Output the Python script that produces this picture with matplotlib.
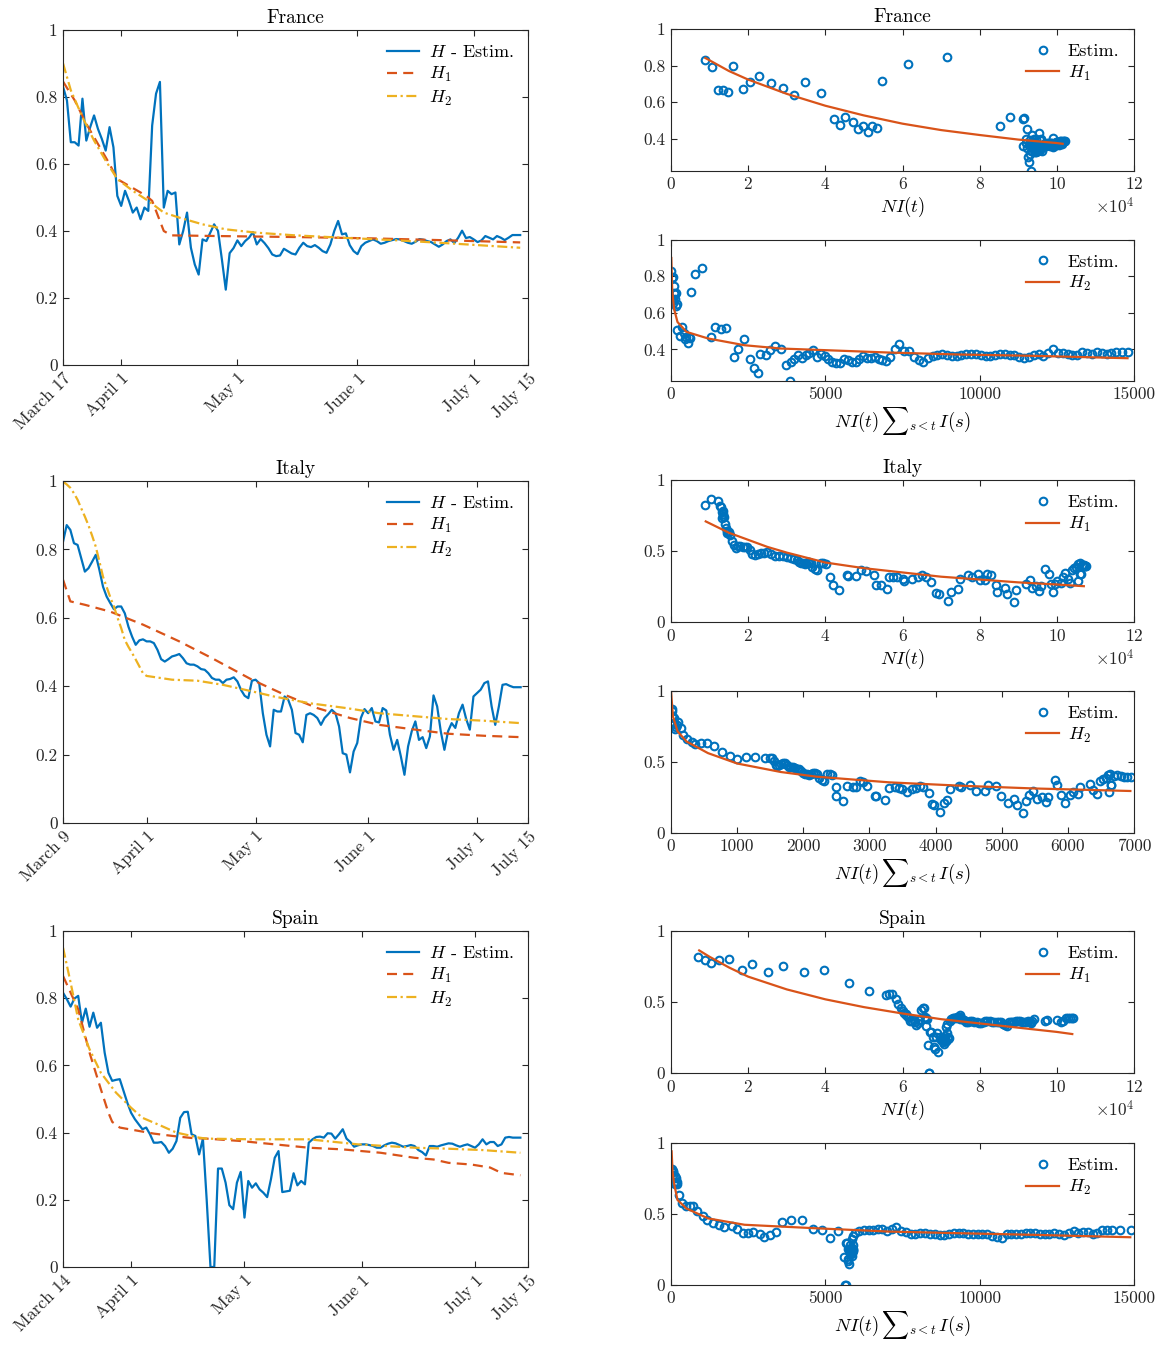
import numpy as np
import pandas as pd
import matplotlib
matplotlib.use("Agg")
import matplotlib.pyplot as plt
from matplotlib.ticker import FuncFormatter, ScalarFormatter, MultipleLocator

plt.rcParams["font.family"] = "cmr10"
plt.rcParams["mathtext.fontset"] = "cm"
plt.rcParams["axes.formatter.use_mathtext"] = True
plt.rcParams["axes.unicode_minus"] = False

BLUE = "#0072BD"
RED = "#D95319"
YELLOW = "#EDB120"
AXC = "#262626"

# ---------------- France (daily, from March 17) ----------------
h_fr = [0.83, 0.79, 0.665, 0.665, 0.655, 0.795, 0.67, 0.71, 0.745, 0.705,
        0.675, 0.64, 0.71, 0.65, 0.505, 0.475, 0.52, 0.49, 0.455, 0.47,
        0.435, 0.47, 0.46, 0.715, 0.81, 0.845, 0.47, 0.52, 0.51, 0.515,
        0.36, 0.40, 0.455, 0.35, 0.30, 0.27, 0.375, 0.37, 0.395, 0.42,
        0.40, 0.315, 0.225, 0.334, 0.349, 0.372, 0.355, 0.37, 0.38, 0.397,
        0.36, 0.376, 0.364, 0.349, 0.33, 0.325, 0.327, 0.347, 0.34, 0.333,
        0.33, 0.35, 0.365, 0.355, 0.352, 0.358, 0.35, 0.34, 0.335, 0.36,
        0.40, 0.43, 0.39, 0.393, 0.358, 0.34, 0.331, 0.355, 0.365, 0.37,
        0.375, 0.37, 0.362, 0.365, 0.37, 0.373, 0.376, 0.375, 0.37, 0.365,
        0.362, 0.368, 0.376, 0.374, 0.37, 0.367, 0.36, 0.353, 0.36, 0.37,
        0.375, 0.364, 0.38, 0.401, 0.379, 0.382, 0.375, 0.367, 0.372, 0.385,
        0.38, 0.375, 0.385, 0.38, 0.373, 0.38, 0.388, 0.388, 0.388]
# N*I(t), in units of 1e4
ni_fr = [0.89, 1.05, 1.21, 1.34, 1.47, 1.60, 1.86, 2.04, 2.29, 2.59,
         2.90, 3.20, 3.48, 3.89, 4.23, 4.39, 4.52, 4.71, 4.84, 4.97,
         5.10, 5.21, 5.34, 5.46, 6.13, 7.15, 8.53, 8.78, 9.13, 9.14,
         9.13, 9.20, 9.23, 9.22, 9.25, 9.27, 9.20, 9.28, 9.30, 9.35,
         9.40, 9.30, 9.33, 9.32, 9.35, 9.38, 9.36, 9.40, 9.42, 9.45,
         9.43, 9.46, 9.48, 9.47, 9.45, 9.44, 9.46, 9.49, 9.50, 9.48,
         9.47, 9.50, 9.53, 9.55, 9.54, 9.56, 9.55, 9.53, 9.52, 9.56,
         9.58, 9.55, 9.57, 9.60, 9.58, 9.57, 9.61, 9.64, 9.66, 9.68,
         9.70, 9.69, 9.71, 9.73, 9.75, 9.74, 9.76, 9.78, 9.80, 9.79,
         9.81, 9.83, 9.85, 9.86, 9.88, 9.87, 9.89, 9.90, 9.92, 9.94,
         9.95, 9.97, 9.99, 9.90, 10.00, 10.02, 10.03, 10.05, 10.06, 10.08,
         10.09, 10.10, 10.12, 10.13, 10.14, 10.15, 10.17, 10.18, 10.20]
# N*I(t)*sum_{s<t} I(s)
cum_fr = [10, 20, 35, 45, 55, 65, 80, 95, 110, 125,
          140, 155, 170, 185, 210, 290, 360, 420, 460, 500,
          540, 585, 620, 656, 773, 995, 1290, 1440, 1615, 1790,
          2025, 2180, 2350, 2550, 2690, 2810, 2890, 3070, 3200, 3370,
          3550, 3720, 3840, 3880, 4000, 4120, 4240, 4360, 4480, 4600,
          4730, 4850, 4980, 5100, 5230, 5350, 5480, 5600, 5730, 5850,
          5980, 6100, 6230, 6350, 6480, 6600, 6730, 6850, 6980, 7110,
          7250, 7400, 7560, 7710, 7870, 8020, 8170, 8320, 8480, 8630,
          8790, 8940, 9100, 9250, 9410, 9560, 9720, 9870, 10030, 10190,
          10340, 10500, 10650, 10810, 10970, 11120, 11280, 11440, 11590, 11750,
          11910, 12060, 12220, 12380, 12530, 12690, 12850, 13000, 13160, 13320,
          13470, 13630, 13790, 13950, 14110, 14270, 14430, 14600, 14810]
h1_fr_day = [0, 3, 6, 9, 12, 14, 17, 20, 22, 23, 24, 25, 26, 28, 40, 60, 80, 100, 118]
h1_fr_val = [0.846, 0.79, 0.72, 0.66, 0.60, 0.555, 0.535, 0.515, 0.50, 0.49,
             0.46, 0.43, 0.40, 0.387, 0.385, 0.382, 0.378, 0.372, 0.366]
h2_fr_day = [0, 2, 5, 8, 11, 14, 18, 22, 26, 30, 36, 42, 50, 60, 72, 85, 100, 118]
h2_fr_val = [0.90, 0.82, 0.74, 0.67, 0.61, 0.555, 0.52, 0.49, 0.455, 0.44,
             0.42, 0.405, 0.395, 0.387, 0.38, 0.373, 0.363, 0.35]
fit1_fr_x = [0.89, 1.5, 2, 3, 4, 5, 6, 7, 8, 9, 10, 10.15]
fit1_fr_y = [0.841, 0.77, 0.723, 0.645, 0.58, 0.527, 0.482, 0.447, 0.42, 0.395, 0.376, 0.372]
fit2_fr_x = [10, 40, 95, 210, 500, 1200, 2380, 3550, 5000, 7060, 9400, 11740, 14790]
fit2_fr_y = [0.90, 0.72, 0.624, 0.55, 0.496, 0.46, 0.423, 0.405, 0.396, 0.383, 0.372, 0.365, 0.352]

# ---------------- Italy (daily, from March 9) ----------------
h_it = [0.823, 0.871, 0.857, 0.818, 0.813, 0.774, 0.735, 0.745, 0.764, 0.784,
        0.74, 0.691, 0.662, 0.643, 0.625, 0.633, 0.633, 0.613, 0.574, 0.545,
        0.521, 0.534, 0.537, 0.531, 0.531, 0.526, 0.506, 0.479, 0.472, 0.479,
        0.487, 0.49, 0.494, 0.482, 0.467, 0.463, 0.463, 0.458, 0.45, 0.448,
        0.438, 0.424, 0.419, 0.419, 0.409, 0.419, 0.421, 0.426, 0.414, 0.389,
        0.372, 0.365, 0.416, 0.419, 0.409, 0.321, 0.258, 0.224, 0.331, 0.326,
        0.326, 0.37, 0.36, 0.331, 0.263, 0.258, 0.236, 0.316, 0.321, 0.316,
        0.307, 0.287, 0.307, 0.318, 0.331, 0.321, 0.282, 0.204, 0.2, 0.148,
        0.209, 0.234, 0.307, 0.333, 0.321, 0.336, 0.297, 0.294, 0.336, 0.329,
        0.258, 0.214, 0.243, 0.195, 0.141, 0.224, 0.268, 0.297, 0.243, 0.251,
        0.219, 0.253, 0.373, 0.341, 0.268, 0.214, 0.268, 0.292, 0.278, 0.321,
        0.346, 0.304, 0.273, 0.37, 0.38, 0.39, 0.409, 0.414, 0.341, 0.287,
        0.341, 0.404, 0.406, 0.401, 0.397, 0.397, 0.397]
ni_it = [0.87, 1.04, 1.23, 1.27, 1.30, 1.32, 1.33, 1.34, 1.35, 1.36,
         1.38, 1.40, 1.42, 1.44, 1.46, 1.48, 1.50, 1.53, 1.57, 1.62,
         1.68, 1.74, 1.80, 1.86, 1.92, 1.98, 2.04, 2.10, 2.18, 2.26,
         2.34, 2.42, 2.50, 2.60, 2.70, 2.80, 2.90, 3.00, 3.10, 3.20,
         3.26, 3.32, 3.38, 3.43, 3.47, 3.51, 3.55, 3.58, 3.62, 3.66,
         3.72, 3.78, 3.89, 3.95, 4.01, 4.13, 4.20, 4.36, 4.55, 4.60,
         4.80, 4.92, 5.05, 5.25, 5.30, 5.45, 5.60, 5.65, 5.75, 5.85,
         6.00, 6.05, 6.25, 6.40, 6.50, 6.60, 6.75, 6.88, 6.95, 7.19,
         7.25, 7.45, 7.50, 7.70, 7.80, 7.95, 8.00, 8.15, 8.20, 8.30,
         8.42, 8.45, 8.65, 8.70, 8.88, 8.95, 9.20, 9.30, 9.35, 9.45,
         9.55, 9.60, 9.70, 9.80, 9.85, 9.91, 9.95, 10.00, 10.10, 10.15,
         10.20, 10.30, 10.35, 10.40, 10.45, 10.50, 10.55, 10.60, 10.60, 10.55,
         10.62, 10.65, 10.68, 10.70, 10.72, 10.73, 10.75]
cum_it = [10, 15, 22, 30, 40, 50, 60, 72, 85, 110,
          150, 180, 235, 315, 370, 450, 540, 650, 765, 890,
          1005, 1135, 1270, 1425, 1490, 1520, 1550, 1580, 1600, 1630,
          1660, 1690, 1720, 1750, 1780, 1810, 1840, 1870, 1900, 1930,
          1960, 1990, 2020, 2050, 2080, 2110, 2140, 2170, 2200, 2240,
          2280, 2320, 2360, 2400, 2440, 2490, 2500, 2600, 2660, 2750,
          2800, 2850, 2900, 2970, 3080, 3100, 3240, 3300, 3380, 3440,
          3490, 3570, 3650, 3700, 3760, 3810, 3900, 3940, 3980, 4060,
          4130, 4180, 4220, 4360, 4390, 4520, 4610, 4740, 4800, 4920,
          4990, 5100, 5180, 5235, 5320, 5360, 5415, 5480, 5535, 5615,
          5670, 5700, 5800, 5835, 5890, 5960, 6030, 6080, 6160, 6190,
          6330, 6380, 6440, 6490, 6530, 6575, 6600, 6640, 6650, 6620,
          6655, 6695, 6750, 6800, 6850, 6900, 6960]
h1_it_day = [0, 2, 6, 13, 22, 32, 41, 52, 61, 70, 79, 87, 97, 106, 116, 126]
h1_it_val = [0.711, 0.648, 0.638, 0.618, 0.58, 0.531, 0.482, 0.419, 0.375, 0.336,
             0.307, 0.287, 0.273, 0.261, 0.255, 0.251]
h2_it_day = [0, 1, 2, 3, 4, 5, 6, 7, 8, 9, 10, 11, 12, 13, 14, 15, 16, 17, 18, 19,
             20, 21, 22, 23, 30, 37, 44, 52, 58, 68, 78, 87, 97, 106, 116, 126]
h2_it_val = [0.998, 0.99, 0.98, 0.964, 0.945, 0.92, 0.896, 0.87, 0.84, 0.808,
             0.765, 0.72, 0.69, 0.66, 0.633, 0.60, 0.57, 0.535, 0.515, 0.497,
             0.478, 0.458, 0.438, 0.43, 0.419, 0.416, 0.404, 0.385, 0.37, 0.35,
             0.336, 0.321, 0.312, 0.304, 0.299, 0.292]
fit1_it_x = [0.9, 1.2, 1.5, 2, 2.5, 3, 4, 5, 6, 7, 8, 9, 10, 10.7]
fit1_it_y = [0.71, 0.67, 0.63, 0.58, 0.53, 0.49, 0.42, 0.38, 0.35, 0.32, 0.30, 0.28, 0.265, 0.253]
fit2_it_x = [0, 30, 100, 235, 560, 1000, 1660, 2200, 3300, 4390, 5480, 6945]
fit2_it_y = [1.0, 0.82, 0.716, 0.645, 0.563, 0.49, 0.43, 0.397, 0.357, 0.333, 0.314, 0.296]

# ---------------- Spain (daily, from March 14) ----------------
h_es = [0.816, 0.797, 0.775, 0.799, 0.807, 0.727, 0.769, 0.715, 0.757, 0.712,
        0.727, 0.638, 0.578, 0.554, 0.557, 0.559, 0.524, 0.489, 0.459, 0.44,
        0.425, 0.41, 0.415, 0.395, 0.37, 0.37, 0.372, 0.36, 0.34, 0.352,
        0.375, 0.444, 0.461, 0.462, 0.395, 0.39, 0.335, 0.382, 0.2, 0.0,
        0.0, 0.293, 0.293, 0.251, 0.184, 0.172, 0.251, 0.283, 0.147, 0.256,
        0.236, 0.249, 0.231, 0.221, 0.208, 0.261, 0.325, 0.345, 0.223, 0.225,
        0.227, 0.279, 0.243, 0.256, 0.246, 0.37, 0.38, 0.387, 0.388, 0.385,
        0.398, 0.397, 0.382, 0.395, 0.41, 0.382, 0.372, 0.358, 0.362, 0.365,
        0.365, 0.363, 0.36, 0.355, 0.355, 0.362, 0.367, 0.37, 0.368, 0.363,
        0.358, 0.36, 0.363, 0.36, 0.348, 0.342, 0.332, 0.36, 0.36, 0.358,
        0.362, 0.365, 0.368, 0.367, 0.362, 0.358, 0.362, 0.365, 0.36, 0.355,
        0.365, 0.38, 0.365, 0.372, 0.372, 0.36, 0.365, 0.385, 0.387, 0.385,
        0.385, 0.385]
ni_es = [0.70, 0.87, 1.04, 1.25, 1.51, 1.83, 2.11, 2.51, 2.90, 3.45,
         3.96, 4.62, 5.14, 5.57, 5.66, 5.74, 5.82, 5.88, 5.95, 6.00,
         6.05, 6.08, 6.10, 6.15, 6.20, 6.25, 6.30, 6.33, 6.36, 6.40,
         6.43, 6.47, 6.52, 6.55, 6.58, 6.60, 6.62, 6.64, 6.66, 6.68,
         6.69, 6.72, 6.75, 6.78, 6.82, 6.85, 6.88, 6.90, 6.93, 6.96,
         6.99, 7.02, 7.04, 7.06, 7.08, 7.10, 7.12, 7.15, 7.10, 7.12,
         7.14, 7.16, 7.17, 7.19, 7.20, 7.22, 7.26, 7.30, 7.34, 7.38,
         7.42, 7.46, 7.50, 7.48, 7.50, 7.55, 7.60, 7.65, 7.70, 7.75,
         7.80, 7.86, 7.92, 7.98, 8.04, 8.10, 8.15, 8.20, 8.26, 8.32,
         8.38, 8.44, 8.50, 8.55, 8.60, 8.65, 8.70, 8.75, 8.80, 8.85,
         8.90, 8.95, 9.00, 9.05, 9.10, 9.15, 9.20, 9.25, 9.30, 9.33,
         9.36, 9.40, 9.70, 9.75, 10.00, 10.10, 10.15, 10.25, 10.30, 10.35,
         10.40, 10.42]
cum_es = [20, 35, 50, 65, 80, 100, 120, 140, 160, 180,
          200, 270, 360, 480, 600, 715, 855, 1030, 1180, 1360,
          1560, 1730, 1970, 2140, 2320, 2490, 2670, 2870, 3020, 3220,
          3410, 3610, 3900, 4250, 4600, 4900, 5160, 5400, 5600, 5650,
          5660, 5680, 5700, 5720, 5740, 5750, 5770, 5790, 5760, 5800,
          5810, 5820, 5830, 5840, 5850, 5860, 5870, 5880, 5830, 5845,
          5860, 5880, 5890, 5900, 5910, 5950, 6100, 6250, 6400, 6550,
          6700, 6850, 7000, 7150, 7300, 7460, 7610, 7770, 7920, 8080,
          8230, 8390, 8540, 8700, 8850, 9010, 9160, 9320, 9470, 9630,
          9780, 9940, 10090, 10250, 10400, 10560, 10710, 10870, 11020, 11180,
          11330, 11490, 11640, 11800, 11950, 12110, 12260, 12420, 12570, 12730,
          12880, 13040, 13190, 13350, 13500, 13660, 13810, 13970, 14120, 14280,
          14550, 14900]
h1_es_day = [0, 4, 7, 10, 12, 13, 15, 19, 24, 29, 34, 38, 47, 56, 65, 74, 84, 93,
             98, 102, 108, 113, 116, 121]
h1_es_val = [0.866, 0.767, 0.638, 0.529, 0.459, 0.432, 0.415, 0.407, 0.397, 0.39,
             0.384, 0.382, 0.375, 0.365, 0.355, 0.35, 0.34, 0.325, 0.32, 0.31,
             0.305, 0.296, 0.28, 0.273]
h2_es_day = [0, 2, 4, 7, 10, 14, 18, 21, 26, 30, 36, 38, 50, 65, 72, 78, 93, 102, 111, 121]
h2_es_val = [0.95, 0.846, 0.737, 0.648, 0.578, 0.519, 0.474, 0.444, 0.42, 0.40,
             0.385, 0.382, 0.38, 0.38, 0.372, 0.365, 0.355, 0.352, 0.348, 0.34]
fit1_es_x = [0.73, 1, 1.5, 2, 3, 4, 5, 6, 7, 8, 9, 10, 10.4]
fit1_es_y = [0.865, 0.82, 0.745, 0.68, 0.59, 0.52, 0.465, 0.42, 0.38, 0.35, 0.32, 0.29, 0.275]
fit2_es_x = [20, 50, 95, 210, 500, 1200, 2380, 4720, 7060, 9400, 11740, 14880]
fit2_es_y = [0.943, 0.80, 0.72, 0.60, 0.54, 0.47, 0.425, 0.40, 0.377, 0.365, 0.354, 0.337]

tick_names = ["April 1", "May 1", "June 1", "July 1"]
tick_dates = ["2020-04-01", "2020-05-01", "2020-06-01", "2020-07-01"]

fig = plt.figure(figsize=(11.68, 13.45), dpi=100)


def style(ax):
    for s in ax.spines.values():
        s.set_color(AXC)
        s.set_linewidth(0.8)
    ax.tick_params(direction="in", top=True, right=True, length=4, width=0.8,
                   colors=AXC, labelsize=12.5, pad=4)


def left_panel(rect, title, start, first_label, h, h1_day, h1_val, h2_day, h2_val):
    ax = fig.add_axes(rect)
    start = pd.Timestamp(start)
    dates = pd.date_range(start, periods=len(h))
    ax.plot(dates, h, color=BLUE, lw=1.6, label="$H$ - Estim.")
    ax.plot(start + pd.to_timedelta(h1_day, unit="D"), h1_val, color=RED, lw=1.6,
            dashes=(4.5, 2.8), label="$H_1$")
    ax.plot(start + pd.to_timedelta(h2_day, unit="D"), h2_val, color=YELLOW, lw=1.6,
            dashes=(4.5, 1.6, 1.0, 1.6), label="$H_2$")
    end = pd.Timestamp("2020-07-15")
    ax.set_xlim(start, end)
    ax.set_ylim(0, 1)
    ax.set_yticks(np.arange(0, 1.01, 0.2))
    ax.yaxis.set_major_formatter(FuncFormatter(lambda v, p: f"{v:g}"))
    ticks = [start] + [pd.Timestamp(d) for d in tick_dates] + [end]
    ax.set_xticks(ticks)
    ax.set_xticklabels([first_label] + tick_names + ["July 15"], rotation=45,
                       ha="right", rotation_mode="anchor")
    ax.set_title(title, fontsize=14, color="black", pad=5)
    style(ax)
    ax.legend(loc="upper right", frameon=False, fontsize=13, handlelength=1.8,
              handletextpad=0.5, labelspacing=0.25, borderaxespad=0.4)
    return ax


def right_panel(rect, x, h, fx, fy, fit_label, xmax, xlabel, ymin, yticks,
                title=None, sci=False, xstep=None):
    ax = fig.add_axes(rect)
    ax.plot(x, h, "o", mfc="none", mec=BLUE, ms=5.5, mew=1.5, label="Estim.")
    ax.plot(fx, fy, color=RED, lw=1.6, label=fit_label)
    ax.set_xlim(0, xmax)
    ax.set_ylim(ymin, 1)
    ax.set_yticks(yticks)
    ax.yaxis.set_major_formatter(FuncFormatter(lambda v, p: f"{v:g}"))
    if sci:
        fmt = ScalarFormatter(useMathText=True)
        fmt.set_powerlimits((4, 4))
        ax.xaxis.set_major_formatter(fmt)
        ax.xaxis.get_offset_text().set_fontsize(12.5)
        ax.xaxis.get_offset_text().set_color(AXC)
    else:
        ax.xaxis.set_major_formatter(FuncFormatter(lambda v, p: f"{v:g}"))
    if xstep:
        ax.xaxis.set_major_locator(MultipleLocator(xstep))
    ax.set_xlabel(xlabel, fontsize=13.5, labelpad=2)
    if title:
        ax.set_title(title, fontsize=14, color="black", pad=5)
    style(ax)
    ax.legend(loc="upper right", frameon=False, fontsize=13, handlelength=1.8,
              handletextpad=0.5, labelspacing=0.25, borderaxespad=0.4)
    return ax


LX, LW = 0.054, 0.398
RX, RW = 0.5745, 0.3964
lab1 = "$NI(t)$"
lab2 = r"$NI(t)\,{\sum}_{s<t}\,I(s)$"

# France
left_panel([LX, 0.7286, LW, 0.2491], "France", "2020-03-17", "March 17",
           h_fr, h1_fr_day, h1_fr_val, h2_fr_day, h2_fr_val)
yl_fr = min(h_fr)
right_panel([RX, 0.8731, RW, 0.1054], np.array(ni_fr) * 1e4, h_fr,
            np.array(fit1_fr_x) * 1e4, fit1_fr_y, "$H_1$", 12e4, lab1, yl_fr,
            [0.4, 0.6, 0.8, 1.0], title="France", sci=True, xstep=2e4)
right_panel([RX, 0.7164, RW, 0.1054], cum_fr, h_fr, fit2_fr_x, fit2_fr_y, "$H_2$",
            15000, lab2, yl_fr, [0.4, 0.6, 0.8, 1.0], xstep=5000)

# Italy
left_panel([LX, 0.3881, LW, 0.2543], "Italy", "2020-03-09", "March 9",
           h_it, h1_it_day, h1_it_val, h2_it_day, h2_it_val)
right_panel([RX, 0.5375, RW, 0.1054], np.array(ni_it) * 1e4, h_it,
            np.array(fit1_it_x) * 1e4, fit1_it_y, "$H_1$", 12e4, lab1, 0,
            [0, 0.5, 1.0], title="Italy", sci=True, xstep=2e4)
right_panel([RX, 0.3807, RW, 0.1054], cum_it, h_it, fit2_it_x, fit2_it_y, "$H_2$",
            7000, lab2, 0, [0, 0.5, 1.0], xstep=1000)

# Spain
left_panel([LX, 0.058, LW, 0.2498], "Spain", "2020-03-14", "March 14",
           h_es, h1_es_day, h1_es_val, h2_es_day, h2_es_val)
right_panel([RX, 0.2022, RW, 0.1054], np.array(ni_es) * 1e4, h_es,
            np.array(fit1_es_x) * 1e4, fit1_es_y, "$H_1$", 12e4, lab1, 0,
            [0, 0.5, 1.0], title="Spain", sci=True, xstep=2e4)
right_panel([RX, 0.0446, RW, 0.1054], cum_es, h_es, fit2_es_x, fit2_es_y, "$H_2$",
            15000, lab2, 0, [0, 0.5, 1.0], xstep=5000)

fig.savefig("out.png", dpi=100, facecolor="white")
